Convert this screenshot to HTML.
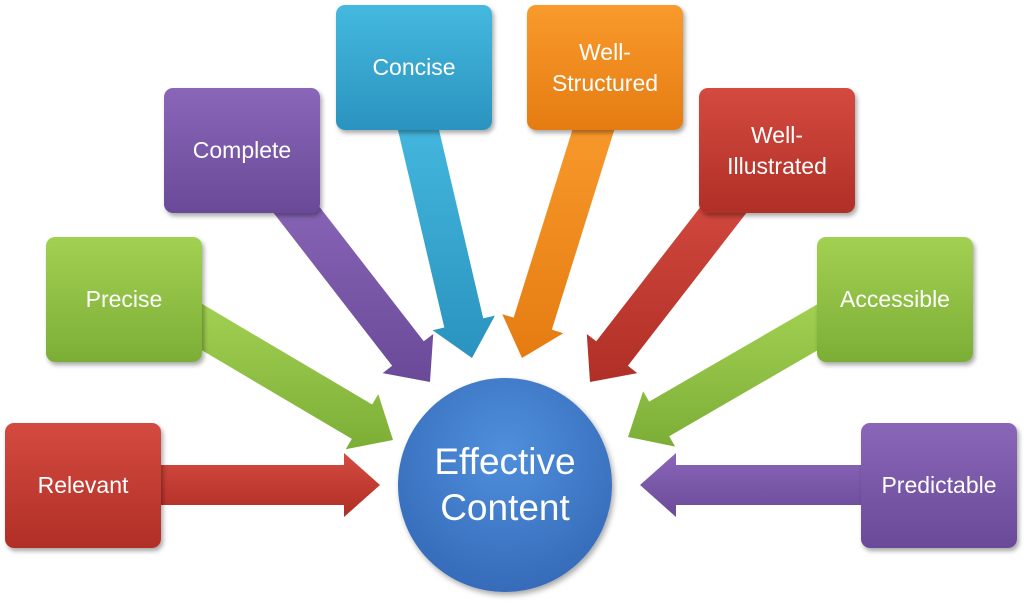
<!DOCTYPE html>
<html><head><meta charset="utf-8"><style>
body{margin:0;width:1024px;height:604px;background:#fff;overflow:hidden;position:relative;font-family:"Liberation Sans",sans-serif}
.b{position:absolute;width:156px;height:125px;border-radius:9px;color:#fff;font-size:23px;display:flex;align-items:center;justify-content:center;text-align:center;line-height:31px;box-shadow:2px 3px 5px rgba(0,0,0,.35)}
.red{background:linear-gradient(#d44a40,#b02f26)}
.grn{background:linear-gradient(#a2d052,#7cae36)}
.pur{background:linear-gradient(#8a66b8,#6a4a98)}
.blu{background:linear-gradient(#45b9df,#2a93bf)}
.org{background:linear-gradient(#f99a2c,#e57c12)}
#c{position:absolute;left:398px;top:378px;width:214px;height:214px;border-radius:50%;background:radial-gradient(circle at 50% 35%,#4f8fdc,#2f62b0);color:#fff;font-size:37px;line-height:46px;display:flex;align-items:center;justify-content:center;text-align:center;box-shadow:2px 3px 6px rgba(0,0,0,.35)}
svg{position:absolute;left:0;top:0}
</style></head><body>
<svg width="1024" height="604" id="s">
<defs>
<linearGradient id="gr" x1="0" y1="0" x2="0" y2="1"><stop offset="0" stop-color="#d44a40"/><stop offset="1" stop-color="#b02f26"/></linearGradient>
<linearGradient id="gg" x1="0" y1="0" x2="0" y2="1"><stop offset="0" stop-color="#a2d052"/><stop offset="1" stop-color="#7cae36"/></linearGradient>
<linearGradient id="gp" x1="0" y1="0" x2="0" y2="1"><stop offset="0" stop-color="#8a66b8"/><stop offset="1" stop-color="#6a4a98"/></linearGradient>
<linearGradient id="gb" x1="0" y1="0" x2="0" y2="1"><stop offset="0" stop-color="#45b9df"/><stop offset="1" stop-color="#2a93bf"/></linearGradient>
<linearGradient id="go" x1="0" y1="0" x2="0" y2="1"><stop offset="0" stop-color="#f99a2c"/><stop offset="1" stop-color="#e57c12"/></linearGradient>
</defs>
</svg>
<div class="b red" style="left:5px;top:423px">Relevant</div>
<div class="b grn" style="left:46px;top:237px">Precise</div>
<div class="b pur" style="left:164px;top:88px">Complete</div>
<div class="b blu" style="left:336px;top:5px">Concise</div>
<div class="b org" style="left:527px;top:5px">Well-<br>Structured</div>
<div class="b red" style="left:699px;top:88px">Well-<br>Illustrated</div>
<div class="b grn" style="left:817px;top:237px">Accessible</div>
<div class="b pur" style="left:861px;top:423px">Predictable</div>
<div id="c">Effective<br>Content</div>
<script>
var s=document.getElementById('s');
function A(x0,y0,x1,y1,f){var dx=x1-x0,dy=y1-y0,L=Math.hypot(dx,dy),ux=dx/L,uy=dy/L,nx=-uy,ny=ux,w=20,h=32,hl=36;
var bx=x1-ux*hl,by=y1-uy*hl;
var p=[[x0+nx*w,y0+ny*w],[bx+nx*w,by+ny*w],[bx+nx*h,by+ny*h],[x1,y1],[bx-nx*h,by-ny*h],[bx-nx*w,by-ny*w],[x0-nx*w,y0-ny*w]];
var e=document.createElementNS('http://www.w3.org/2000/svg','polygon');
e.setAttribute('points',p.map(function(q){return q.join(',')}).join(' '));e.setAttribute('fill','url(#'+f+')');s.appendChild(e);}
A(150,485,380,485,'gr');
A(870,485,640,485,'gp');
A(190,320,393,440,'gg');
A(285,195,430,382,'gp');
A(415,115,472,358,'gb');
A(598,115,522,358,'go');
A(735,195,590,382,'gr');
A(830,320,628,437,'gg');
</script>
</body></html>
